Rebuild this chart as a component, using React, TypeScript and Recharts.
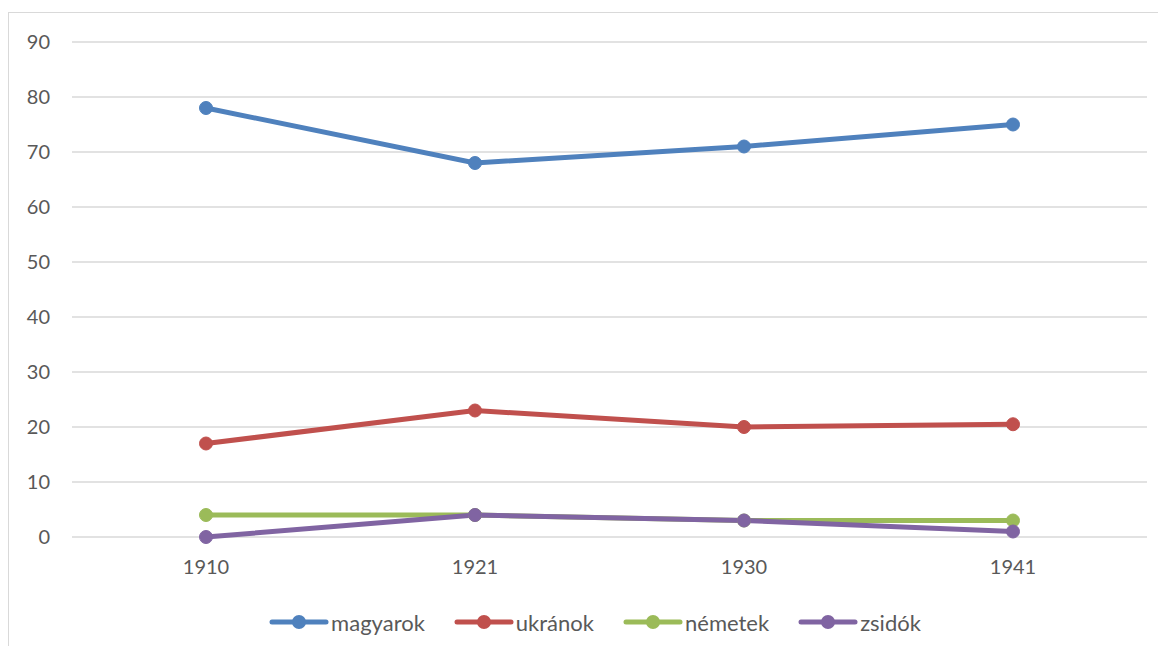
import { LineChart, Line, XAxis, YAxis, CartesianGrid, Legend } from "recharts";

const YEARS = ["1910", "1921", "1930", "1941"];
const MAGYAROK = [78, 68, 71, 75];
const UKRANOK = [17, 23, 20, 20.5];
const NEMETEK = [4, 4, 3, 3];
const ZSIDOK = [0, 4, 3, 1];
const Y_TICKS = [0, 10, 20, 30, 40, 50, 60, 70, 80, 90];

const SERIES = [
  { key: "magyarok", color: "#4F81BD", values: MAGYAROK },
  { key: "ukránok", color: "#C0504D", values: UKRANOK },
  { key: "németek", color: "#9BBB59", values: NEMETEK },
  { key: "zsidók", color: "#8064A2", values: ZSIDOK },
];

const data = YEARS.map((y, i) => {
  const row: Record<string, string | number> = { year: y };
  SERIES.forEach(s => { row[s.key] = s.values[i]; });
  return row;
});

const FONT = "Lato, 'Open Sans', sans-serif";
const TEXT = "#595959";

function LegendContent() {
  return (
    <div style={{ display: "flex", justifyContent: "center", alignItems: "center", height: 40, fontFamily: FONT, fontSize: 22, color: TEXT, paddingLeft: 34 }}>
      {SERIES.map((s, i) => (
        <span key={s.key} style={{ display: "flex", alignItems: "center", marginRight: i < SERIES.length - 1 ? 29 : 0 }}>
          <svg width="60" height="16" style={{ marginRight: 2 }}>
            <line x1="3" y1="8" x2="57" y2="8" stroke={s.color} strokeWidth="5" strokeLinecap="round" />
            <circle cx="30" cy="8" r="7" fill={s.color} />
          </svg>
          {s.key}
        </span>
      ))}
    </div>
  );
}

export default function App() {
  return (
    <div style={{ marginTop: 4, width: 1150, height: 634, boxSizing: "border-box", borderLeft: "1px solid #d9d9d9", borderTop: "1px solid #d9d9d9", overflow: "hidden", background: "#fff" }}>
      <LineChart width={1158} height={633} data={data} margin={{ top: 29, right: 20, left: 0, bottom: 4 }}>
        <CartesianGrid vertical={false} stroke="#d9d9d9" strokeWidth={1.5} />
        <XAxis
          dataKey="year"
          axisLine={false}
          tickLine={false}
          height={65}
          padding={{ left: 134, right: 134 }}
          tick={{ fill: TEXT, fontSize: 20, fontFamily: FONT }}
          tickMargin={17}
        />
        <YAxis
          domain={[0, 90]}
          ticks={Y_TICKS}
          width={63}
          axisLine={false}
          tickLine={false}
          tickMargin={16}
          tick={{ fill: TEXT, fontSize: 20, fontFamily: FONT }}
        />
        <Legend verticalAlign="bottom" height={40} content={<LegendContent />} />
        {SERIES.map(s => (
          <Line
            key={s.key}
            dataKey={s.key}
            type="linear"
            stroke={s.color}
            strokeWidth={5}
            dot={{ r: 6.5, fill: s.color, stroke: s.color, strokeWidth: 1 }}
            activeDot={false}
            isAnimationActive={false}
          />
        ))}
      </LineChart>
    </div>
  );
}
